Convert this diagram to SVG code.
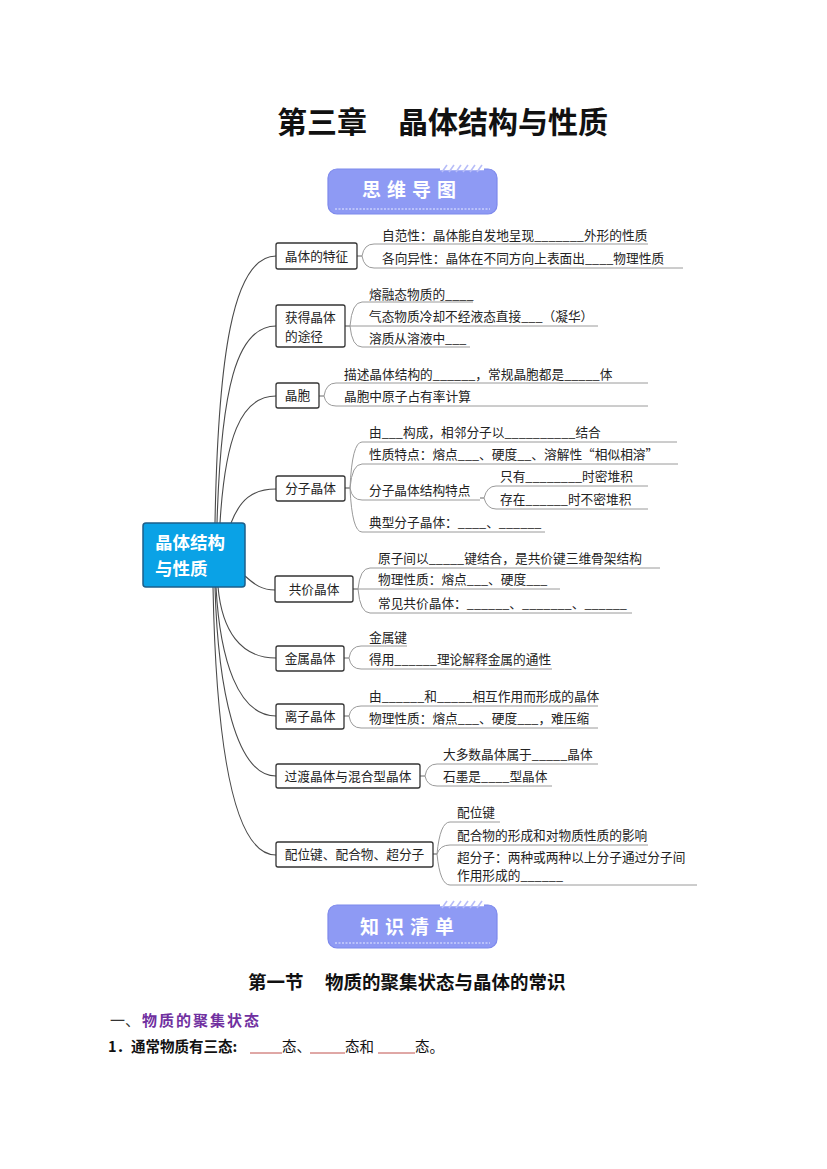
<svg xmlns="http://www.w3.org/2000/svg" width="827" height="1169" viewBox="0 0 827 1169">
<style>
.t{font-family:"Noto Sans CJK SC","Noto Sans",sans-serif;font-size:12.7px;fill:#222}
.bt{font-family:"Noto Sans CJK SC","Noto Sans",sans-serif;font-size:12.7px;fill:#222;text-anchor:middle}
.box{fill:#fff;stroke:#333;stroke-width:1.3}
.ul{fill:none;stroke:#9a9a9a;stroke-width:1}
.rl{fill:none;stroke:#4a4a4a;stroke-width:1.1}
.ban{fill:#8e9af4;stroke:#7d89ec;stroke-width:1.2}
.bant{font-family:"Noto Sans CJK SC",sans-serif;font-size:19px;font-weight:bold;fill:#fff;letter-spacing:6px}
.dash{stroke:#e6e9ff;stroke-width:1.2;stroke-dasharray:2 1.5}
.str{stroke:#b7bdf8;stroke-width:1.6}
.rt{font-family:"Noto Sans CJK SC",sans-serif;font-size:17.5px;font-weight:bold;fill:#fff}
</style>
<rect width="827" height="1169" fill="#fff"/>

<g id="title">
<text x="277" y="133" font-family="Noto Sans CJK SC,sans-serif" font-size="30" font-weight="bold" fill="#111">第三章</text>
<text x="398" y="133" font-family="Noto Sans CJK SC,sans-serif" font-size="30" font-weight="bold" fill="#111">晶体结构与性质</text>
</g>

<g id="banner1">
<rect class="ban" x="328" y="169" width="169" height="45" rx="9"/>
<line x1="440" y1="169" x2="484" y2="169" stroke="#fff" stroke-width="2.5"/>
<g class="str"><line x1="442" y1="172" x2="447" y2="165"/><line x1="449" y1="172" x2="454" y2="165"/><line x1="456" y1="172" x2="461" y2="165"/><line x1="463" y1="172" x2="468" y2="165"/><line x1="470" y1="172" x2="475" y2="165"/><line x1="477" y1="172" x2="482" y2="165"/></g>
<line class="dash" x1="335" y1="209" x2="490" y2="209"/>
<text class="bant" x="362" y="197">思维导图</text>
</g>

<g id="connectors">
<path class="rl" d="M215 523 C218 360 232 256 276 256"/>
<path class="rl" d="M217 523 C221 390 236 326 276 326"/>
<path class="rl" d="M220 523 C225 440 240 396 276 396"/>
<path class="rl" d="M231 523 C240 500 252 489 276 489"/>
<path class="rl" d="M245 576 C255 585 262 590 275 590"/>
<path class="rl" d="M218 587 C222 630 240 658 276 658"/>
<path class="rl" d="M216 587 C220 660 238 716 276 716"/>
<path class="rl" d="M215 587 C218 690 236 776 276 776"/>
<path class="rl" d="M213 587 C216 740 232 855 276 855"/>

<path class="ul" d="M357 256 h5 Q364 244 374 244 H648"/>
<path class="ul" d="M357 256 h5 Q364 268 374 268 H683"/>

<path class="ul" d="M345 326 h5 Q352 302 362 302 H473"/>
<path class="ul" d="M345 326 H598"/>
<path class="ul" d="M345 326 h5 Q352 347 362 347 H470"/>

<path class="ul" d="M319 396 h5 Q326 383 336 383 H648"/>
<path class="ul" d="M319 396 h5 Q326 406 336 406 H648"/>

<path class="ul" d="M345 488 h5 Q352 442 362 442 H677"/>
<path class="ul" d="M345 488 h5 Q352 464 362 464 H678"/>
<path class="ul" d="M345 488 h5 Q352 500 362 500 H480"/>
<path class="ul" d="M345 488 h5 Q352 532 362 532 H545"/>
<path class="ul" d="M480 498 h4 Q487 486 496 486 H648"/>
<path class="ul" d="M480 498 h4 Q487 509 496 509 H648"/>

<path class="ul" d="M353 589 h5 Q360 568 370 568 H660"/>
<path class="ul" d="M353 589 H560"/>
<path class="ul" d="M353 589 h5 Q360 613 370 613 H632"/>

<path class="ul" d="M344 658 h5 Q351 646 361 646 H407"/>
<path class="ul" d="M344 658 h5 Q351 669 361 669 H552"/>

<path class="ul" d="M344 716 h5 Q351 706 361 706 H598"/>
<path class="ul" d="M344 716 h5 Q351 728 361 728 H598"/>

<path class="ul" d="M420 776 h5 Q427 764 437 764 H598"/>
<path class="ul" d="M420 776 h5 Q427 786 437 786 H552"/>

<path class="ul" d="M433 854 h4 Q440 822 450 822 H500"/>
<path class="ul" d="M433 854 h4 Q440 845 450 845 H648"/>
<path class="ul" d="M433 854 h4 Q440 885 450 885 H697"/>
</g>

<g id="root">
<rect x="143" y="523" width="102" height="64" rx="3" fill="#0aa2e6" stroke="#1d5f8a" stroke-width="1.5"/>
<text class="rt" x="155" y="548.5">晶体结构</text>
<text class="rt" x="155" y="574.5">与性质</text>
</g>

<g id="n1">
<rect class="box" x="276" y="243" width="81" height="26" rx="2"/>
<text class="bt" x="316.5" y="261">晶体的特征</text>
<text class="t" x="382" y="240">自范性：晶体能自发地呈现_______外形的性质</text>
<text class="t" x="382" y="263">各向异性：晶体在不同方向上表面出____物理性质</text>
</g>

<g id="n2">
<rect class="box" x="276" y="305" width="69" height="42" rx="2"/>
<text class="t" x="285" y="322">获得晶体</text>
<text class="t" x="285" y="341">的途径</text>
<text class="t" x="369" y="299">熔融态物质的____</text>
<text class="t" x="369" y="321">气态物质冷却不经液态直接___（凝华）</text>
<text class="t" x="369" y="343">溶质从溶液中___</text>
</g>

<g id="n3">
<rect class="box" x="276" y="383" width="43" height="25" rx="2"/>
<text class="bt" x="297.5" y="400">晶胞</text>
<text class="t" x="344" y="379">描述晶体结构的______，常规晶胞都是_____体</text>
<text class="t" x="344" y="401">晶胞中原子占有率计算</text>
</g>

<g id="n4">
<rect class="box" x="276" y="476" width="69" height="25" rx="2"/>
<text class="bt" x="310.5" y="493">分子晶体</text>
<text class="t" x="369" y="437">由___构成，相邻分子以__________结合</text>
<text class="t" x="369" y="459">性质特点：熔点___、硬度__、溶解性“相似相溶”</text>
<text class="t" x="369" y="495">分子晶体结构特点</text>
<text class="t" x="500" y="481">只有________时密堆积</text>
<text class="t" x="500" y="504">存在______时不密堆积</text>
<text class="t" x="369" y="527">典型分子晶体：____、______</text>
</g>

<g id="n5">
<rect class="box" x="275" y="576" width="78" height="26" rx="2"/>
<text class="bt" x="314" y="594">共价晶体</text>
<text class="t" x="378" y="563">原子间以_____键结合，是共价键三维骨架结构</text>
<text class="t" x="378" y="584">物理性质：熔点___、硬度___</text>
<text class="t" x="378" y="608">常见共价晶体：______、_______、______</text>
</g>

<g id="n6">
<rect class="box" x="276" y="646" width="68" height="25" rx="2"/>
<text class="bt" x="310" y="663">金属晶体</text>
<text class="t" x="369" y="642">金属键</text>
<text class="t" x="369" y="664">得用______理论解释金属的通性</text>
</g>

<g id="n7">
<rect class="box" x="276" y="704" width="68" height="25" rx="2"/>
<text class="bt" x="310" y="721">离子晶体</text>
<text class="t" x="369" y="701">由______和_____相互作用而形成的晶体</text>
<text class="t" x="369" y="723">物理性质：熔点___、硬度___，难压缩</text>
</g>

<g id="n8">
<rect class="box" x="276" y="764" width="144" height="24" rx="2"/>
<text class="bt" x="348" y="780.5">过渡晶体与混合型晶体</text>
<text class="t" x="443" y="759">大多数晶体属于_____晶体</text>
<text class="t" x="443" y="781">石墨是____型晶体</text>
</g>

<g id="n9">
<rect class="box" x="276" y="842" width="157" height="25" rx="2"/>
<text class="bt" x="354.5" y="859">配位键、配合物、超分子</text>
<text class="t" x="457" y="817">配位键</text>
<text class="t" x="457" y="840">配合物的形成和对物质性质的影响</text>
<text class="t" x="457" y="862">超分子：两种或两种以上分子通过分子间</text>
<text class="t" x="457" y="880">作用形成的______</text>
</g>

<g id="banner2">
<rect class="ban" x="328" y="905" width="169" height="43" rx="9"/>
<line x1="440" y1="905" x2="484" y2="905" stroke="#fff" stroke-width="2.5"/>
<g class="str"><line x1="442" y1="908" x2="447" y2="901"/><line x1="449" y1="908" x2="454" y2="901"/><line x1="456" y1="908" x2="461" y2="901"/><line x1="463" y1="908" x2="468" y2="901"/><line x1="470" y1="908" x2="475" y2="901"/><line x1="477" y1="908" x2="482" y2="901"/></g>
<line class="dash" x1="335" y1="943" x2="490" y2="943"/>
<text class="bant" x="360" y="934">知识清单</text>
</g>

<g id="section">
<text x="248" y="989" font-family="Noto Sans CJK SC,sans-serif" font-size="18.5" font-weight="bold" fill="#111">第一节</text>
<text x="325" y="989" font-family="Noto Sans CJK SC,sans-serif" font-size="18.5" font-weight="bold" fill="#111">物质的聚集状态与晶体的常识</text>
<text x="110" y="1026" font-family="Noto Sans CJK SC,sans-serif" font-size="15" fill="#333">一、</text>
<text x="142" y="1026" font-family="Noto Sans CJK SC,sans-serif" font-size="15" font-weight="bold" fill="#7030a0" letter-spacing="2">物质的聚集状态</text>
<text x="108" y="1052" font-family="Noto Sans CJK SC,sans-serif" font-size="14.5" font-weight="bold" fill="#111">1．通常物质有三态:</text>
<g stroke="#c0504d" stroke-width="1"><line x1="250" y1="1053" x2="282" y2="1053"/><line x1="310" y1="1053" x2="345" y2="1053"/><line x1="378" y1="1053" x2="415" y2="1053"/></g>
<text x="282" y="1052" font-family="Noto Sans CJK SC,sans-serif" font-size="14.5" fill="#111">态、</text>
<text x="345" y="1052" font-family="Noto Sans CJK SC,sans-serif" font-size="14.5" fill="#111">态和</text>
<text x="415" y="1052" font-family="Noto Sans CJK SC,sans-serif" font-size="14.5" fill="#111">态。</text>
</g>
</svg>
